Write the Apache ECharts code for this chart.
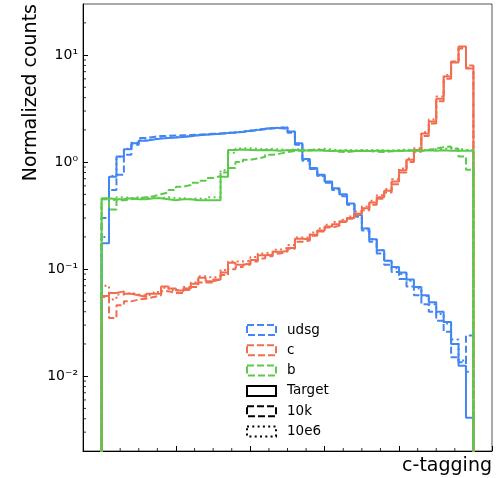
<!DOCTYPE html>
<html>
<head>
<meta charset="utf-8">
<script src="https://cdn.jsdelivr.net/npm/echarts@6/dist/echarts.min.js"></script>
<style>
  html, body { margin: 0; padding: 0; background: #fff; }
  #chart { width: 504px; height: 478px; }
</style>
</head>
<body>
<div id="chart"></div>
<script>
// bin edges of the c-tagging score (50 bins)
const edges = [0, 0.02, 0.04, 0.06, 0.08, 0.1, 0.12, 0.14, 0.16, 0.18, 0.2, 0.22, 0.24, 0.26, 0.28, 0.3,
  0.32, 0.34, 0.36, 0.38, 0.4, 0.42, 0.44, 0.46, 0.48, 0.5, 0.52, 0.54, 0.56, 0.58, 0.6, 0.62, 0.64,
  0.66, 0.68, 0.7, 0.72, 0.74, 0.76, 0.78, 0.8, 0.82, 0.84, 0.86, 0.88, 0.9, 0.92, 0.94, 0.96, 0.98, 1.0]

// udsg
const udsgTarget = [0.175, 0.73, 1.13, 1.32, 1.50, 1.58, 1.63, 1.66, 1.68, 1.70,
  1.72, 1.74, 1.78, 1.80, 1.82, 1.84, 1.87, 1.89, 1.92, 1.96,
  2.00, 2.05, 2.08, 2.09, 2.11, 1.93, 1.50, 1.07, 0.88, 0.76,
  0.66, 0.57, 0.50, 0.41, 0.32, 0.24, 0.19, 0.15, 0.12, 0.105,
  0.093, 0.08, 0.068, 0.057, 0.049, 0.040, 0.032, 0.020, 0.0125, 0.0041]
const udsg10k = [0.30, 0.55, 0.76, 1.17, 1.45, 1.68, 1.72, 1.75, 1.76, 1.77,
  1.78, 1.79, 1.81, 1.82, 1.84, 1.85, 1.87, 1.89, 1.91, 1.95,
  1.99, 2.03, 2.06, 2.08, 2.04, 1.88, 1.45, 1.03, 0.86, 0.74,
  0.64, 0.55, 0.48, 0.40, 0.31, 0.23, 0.18, 0.14, 0.11, 0.094,
  0.081, 0.069, 0.057, 0.047, 0.040, 0.033, 0.026, 0.015, 0.0135, 0.024]
const udsg10e6 = [0.20, 0.74, 1.12, 1.33, 1.52, 1.60, 1.64, 1.67, 1.69, 1.71,
  1.73, 1.75, 1.78, 1.81, 1.83, 1.85, 1.88, 1.90, 1.93, 1.97,
  2.01, 2.05, 2.08, 2.10, 2.10, 1.92, 1.48, 1.06, 0.87, 0.75,
  0.65, 0.56, 0.49, 0.40, 0.31, 0.24, 0.19, 0.15, 0.12, 0.102,
  0.09, 0.078, 0.066, 0.056, 0.047, 0.038, 0.031, 0.022, 0.014, 0.011]

// c
const cTarget = [0.056, 0.060, 0.062, 0.059, 0.057, 0.055, 0.059, 0.059, 0.069, 0.066,
  0.063, 0.066, 0.073, 0.083, 0.077, 0.080, 0.093, 0.115, 0.110, 0.113,
  0.122, 0.135, 0.136, 0.145, 0.148, 0.158, 0.192, 0.190, 0.210, 0.230,
  0.250, 0.262, 0.280, 0.300, 0.330, 0.370, 0.420, 0.470, 0.540, 0.660,
  0.840, 1.05, 1.30, 1.85, 2.40, 3.90, 6.30, 8.50, 12.0, 7.50]
const c10k = [0.055, 0.035, 0.046, 0.050, 0.052, 0.053, 0.055, 0.057, 0.062, 0.060,
  0.060, 0.064, 0.068, 0.075, 0.075, 0.080, 0.088, 0.100, 0.105, 0.110,
  0.118, 0.126, 0.132, 0.140, 0.146, 0.155, 0.180, 0.185, 0.205, 0.225,
  0.245, 0.255, 0.275, 0.295, 0.320, 0.355, 0.400, 0.455, 0.520, 0.620,
  0.800, 1.00, 1.25, 1.75, 2.30, 3.70, 6.00, 8.70, 11.5, 8.00]
const c10e6 = [0.070, 0.052, 0.058, 0.060, 0.058, 0.057, 0.058, 0.061, 0.067, 0.064,
  0.062, 0.068, 0.075, 0.086, 0.083, 0.086, 0.098, 0.118, 0.118, 0.120,
  0.130, 0.140, 0.145, 0.152, 0.158, 0.168, 0.198, 0.198, 0.220, 0.240,
  0.260, 0.275, 0.290, 0.310, 0.345, 0.385, 0.435, 0.490, 0.560, 0.690,
  0.870, 1.08, 1.35, 1.90, 2.50, 4.10, 6.50, 8.60, 11.8, 7.60]

// b
const bTarget = [0.46, 0.45, 0.45, 0.46, 0.45, 0.45, 0.46, 0.46, 0.45, 0.44,
  0.45, 0.45, 0.44, 0.44, 0.44, 0.44, 0.73, 1.30, 1.31, 1.30,
  1.29, 1.30, 1.29, 1.28, 1.29, 1.30, 1.29, 1.28, 1.29, 1.28,
  1.27, 1.28, 1.28, 1.27, 1.28, 1.27, 1.28, 1.28, 1.27, 1.28,
  1.28, 1.28, 1.28, 1.29, 1.28, 1.29, 1.28, 1.28, 1.28, 1.28]
const b10k = [0.45, 0.36, 0.44, 0.45, 0.46, 0.47, 0.48, 0.50, 0.52, 0.55,
  0.59, 0.61, 0.64, 0.67, 0.71, 0.74, 0.80, 0.88, 1.00, 1.05,
  1.08, 1.12, 1.17, 1.20, 1.24, 1.27, 1.28, 1.30, 1.31, 1.29,
  1.27, 1.25, 1.24, 1.26, 1.28, 1.27, 1.25, 1.24, 1.26, 1.27,
  1.28, 1.29, 1.27, 1.30, 1.34, 1.38, 1.40, 1.33, 1.13, 0.85]
const b10e6 = [0.45, 0.44, 0.47, 0.46, 0.47, 0.46, 0.47, 0.46, 0.47, 0.46,
  0.46, 0.45, 0.46, 0.45, 0.47, 0.47, 0.84, 1.22, 1.34, 1.35,
  1.33, 1.32, 1.33, 1.31, 1.30, 1.31, 1.32, 1.30, 1.31, 1.33,
  1.31, 1.29, 1.30, 1.29, 1.30, 1.29, 1.30, 1.29, 1.28, 1.30,
  1.31, 1.30, 1.29, 1.31, 1.32, 1.33, 1.35, 1.34, 1.30, 1.31]

// minor tick positions
const xMinor = [0.05, 0.1, 0.15, 0.25, 0.3, 0.35, 0.45, 0.5, 0.55, 0.65, 0.7, 0.75, 0.85, 0.9, 0.95]
const yMinor = [0.003, 0.004, 0.005, 0.006, 0.007, 0.008, 0.009,
  0.02, 0.03, 0.04, 0.05, 0.06, 0.07, 0.08, 0.09,
  0.2, 0.3, 0.4, 0.5, 0.6, 0.7, 0.8, 0.9,
  2, 3, 4, 5, 6, 7, 8, 9, 20]

const BLUE = '#4286f4'
const ORANGE = '#f26d4f'
const GREEN = '#5cc94b'
const FONT = 'DejaVu Sans'
const DASH = [7, 3]
const DOT = [2, 3.3]
const FLOOR = 1e-4 // below the axis, gives the vertical edges of the histogram
const X_MIN = -0.05
const X_MAX = 1.05
const Y_MIN = 0.002
const Y_MAX = 30

// outline of a step histogram: up from the floor, along the bins, back down
function stepData(vals) {
  const pts = [[edges[0], FLOOR]]
  for (let i = 0; i < vals.length; i++) pts.push([edges[i], vals[i]])
  pts.push([edges[edges.length - 1], vals[vals.length - 1]])
  pts.push([edges[edges.length - 1], FLOOR])
  return pts
}

function hist(name, vals, color, type) {
  return {
    name: name,
    type: 'line',
    step: 'end',
    data: stepData(vals),
    symbol: 'none',
    clip: true,
    lineStyle: { color: color, width: 2, type: type },
    itemStyle: { color: color },
    emphasis: { disabled: true }
  }
}

function legendBox(name, color, type) {
  return {
    name: name,
    icon: 'rect',
    itemStyle: { color: 'rgba(0,0,0,0)', borderColor: color, borderWidth: 2, borderType: type }
  }
}

// short minor tick marks, drawn as tiny rects through the axes
function minorTicks(points, size, offset) {
  return {
    type: 'scatter', silent: true, clip: false, z: 5,
    data: points, symbol: 'rect', symbolSize: size, symbolOffset: offset,
    itemStyle: { color: '#000' }
  }
}

const SUP = { '0': '\u2070', '1': '\u00b9', '2': '\u00b2', '3': '\u00b3', '-': '\u207b' }
function supLabel(v) {
  const e = String(Math.round(Math.log10(v)))
  return '10' + e.split('').map(ch => SUP[ch]).join('')
}

const chart = echarts.init(document.getElementById('chart'))
chart.setOption({
  animation: false,
  backgroundColor: '#fff',
  grid: { left: 83, right: 12, top: 4, bottom: 27, show: true, borderColor: '#555', borderWidth: 1 },
  xAxis: {
    type: 'value', min: X_MIN, max: X_MAX,
    axisLine: { onZero: false, lineStyle: { color: '#000', width: 1 } },
    axisTick: { inside: true, length: 5, lineStyle: { color: '#000', width: 1 } },
    axisLabel: { show: false },
    splitLine: { show: false }
  },
  yAxis: {
    type: 'log', logBase: 10, min: Y_MIN, max: Y_MAX, position: 'left',
    axisLine: { show: true, onZero: false, lineStyle: { color: '#000', width: 1 } },
    axisTick: { show: true, inside: true, length: 5, lineStyle: { color: '#000', width: 1 } },
    axisLabel: {
      margin: 5, showMinLabel: false, showMaxLabel: false, formatter: supLabel,
      fontFamily: FONT, fontSize: 14, color: '#000'
    },
    splitLine: { show: false }
  },
  legend: {
    orient: 'vertical', left: 246, top: 323, padding: 0,
    itemWidth: 29, itemHeight: 10, itemGap: 6.3,
    selectedMode: false,
    textStyle: { fontFamily: FONT, fontSize: 13.5, color: '#000', padding: [0, 0, 0, 6] },
    data: [
      legendBox('udsg', BLUE, DASH),
      legendBox('c', ORANGE, DASH),
      legendBox('b', GREEN, DASH),
      legendBox('Target', '#000', 'solid'),
      legendBox('10k', '#000', DASH),
      legendBox('10e6', '#000', DOT)
    ]
  },
  series: [
    hist('udsg', udsg10k, BLUE, DASH),
    hist('udsg', udsg10e6, BLUE, DOT),
    hist('udsg', udsgTarget, BLUE, 'solid'),
    hist('c', c10k, ORANGE, DASH),
    hist('c', c10e6, ORANGE, DOT),
    hist('c', cTarget, ORANGE, 'solid'),
    hist('b', b10k, GREEN, DASH),
    hist('b', b10e6, GREEN, DOT),
    hist('b', bTarget, GREEN, 'solid'),
    { name: 'Target', type: 'line', data: [] },
    { name: '10k', type: 'line', data: [] },
    { name: '10e6', type: 'line', data: [] },
    minorTicks(yMinor.map(v => [X_MIN, v]), [3, 1], [1.5, 0]),
    minorTicks(xMinor.map(v => [v, Y_MIN]), [1, 3], [0, -1.5])
  ],
  graphic: [{
    type: 'text', x: 31, y: 4, rotation: Math.PI / 2,
    style: { text: 'Normalized counts', fontFamily: FONT, fontSize: 19, fill: '#000', align: 'right', verticalAlign: 'middle' }
  }, {
    type: 'text', x: 492, y: 457,
    style: { text: 'c-tagging', fontFamily: FONT, fontSize: 19, fill: '#000', align: 'right', verticalAlign: 'top' }
  }]
})
</script>
</body>
</html>
